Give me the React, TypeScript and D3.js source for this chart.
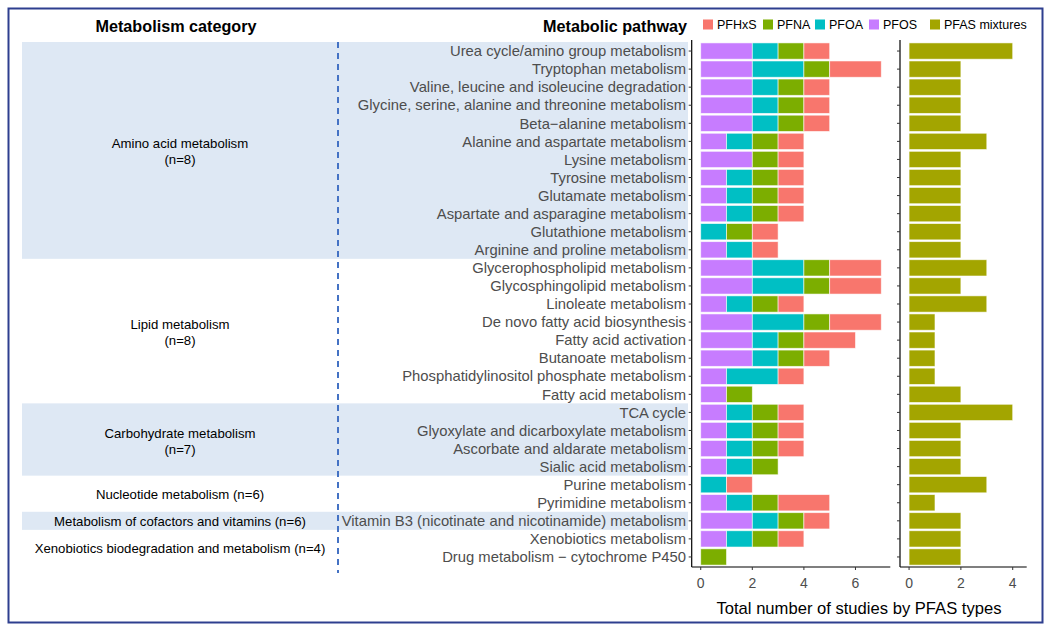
import React from "react";
import * as d3 from "d3";

const pathways = [
  "Urea cycle/amino group metabolism",
  "Tryptophan metabolism",
  "Valine, leucine and isoleucine degradation",
  "Glycine, serine, alanine and threonine metabolism",
  "Beta\u2212alanine metabolism",
  "Alanine and aspartate metabolism",
  "Lysine metabolism",
  "Tyrosine metabolism",
  "Glutamate metabolism",
  "Aspartate and asparagine metabolism",
  "Glutathione metabolism",
  "Arginine and proline metabolism",
  "Glycerophospholipid metabolism",
  "Glycosphingolipid metabolism",
  "Linoleate metabolism",
  "De novo fatty acid biosynthesis",
  "Fatty acid activation",
  "Butanoate metabolism",
  "Phosphatidylinositol phosphate metabolism",
  "Fatty acid metabolism",
  "TCA cycle",
  "Glyoxylate and dicarboxylate metabolism",
  "Ascorbate and aldarate metabolism",
  "Sialic acid metabolism",
  "Purine metabolism",
  "Pyrimidine metabolism",
  "Vitamin B3 (nicotinate and nicotinamide) metabolism",
  "Xenobiotics metabolism",
  "Drug metabolism \u2212 cytochrome P450",
];

const pfos = [2, 2, 2, 2, 2, 1, 2, 1, 1, 1, 0, 1, 2, 2, 1, 2, 2, 2, 1, 1, 1, 1, 1, 1, 0, 1, 2, 1, 0];
const pfoa = [1, 2, 1, 1, 1, 1, 0, 1, 1, 1, 1, 1, 2, 2, 1, 2, 1, 1, 2, 0, 1, 1, 1, 1, 1, 1, 1, 1, 0];
const pfna = [1, 1, 1, 1, 1, 1, 1, 1, 1, 1, 1, 0, 1, 1, 1, 1, 1, 1, 0, 1, 1, 1, 1, 1, 0, 1, 1, 1, 1];
const pfhxs = [1, 2, 1, 1, 1, 1, 1, 1, 1, 1, 1, 1, 2, 2, 1, 2, 2, 1, 1, 0, 1, 1, 1, 0, 1, 2, 1, 1, 0];
const mixtures = [4, 2, 2, 2, 2, 3, 2, 2, 2, 2, 2, 2, 3, 2, 3, 1, 1, 1, 1, 2, 4, 2, 2, 2, 3, 1, 2, 2, 2];

const categoryNames = [
  "Amino acid metabolism",
  "Lipid metabolism",
  "Carbohydrate metabolism",
  "Nucleotide metabolism",
  "Metabolism of cofactors and vitamins",
  "Xenobiotics biodegradation and metabolism",
];
const categoryN = [8, 8, 7, 6, 6, 4];
const categoryRows = [12, 8, 4, 2, 1, 2];
const categoryShaded = [true, false, true, false, true, false];
const categoryTwoLine = [true, true, true, false, false, false];

const seriesKeys = ["PFOS", "PFOA", "PFNA", "PFHxS"];
const seriesColors: Record<string, string> = {
  PFHxS: "#F8766D",
  PFNA: "#7CAE00",
  PFOA: "#00BFC4",
  PFOS: "#C77CFF",
};
const mixColor = "#A3A500";
const legendItems = ["PFHxS", "PFNA", "PFOA", "PFOS", "PFAS mixtures"];
const leftTicks = [0, 2, 4, 6];
const rightTicks = [0, 2, 4];

const FONT = "'Liberation Sans', Arial, sans-serif";

export default function App() {
  const W = 1050, H = 633;
  const y = d3.scalePoint<string>().domain(pathways).range([40.2, 567.8]).padding(0.6);
  const step = y.step();
  const barH = step * 0.9;
  const xL = d3.scaleLinear().domain([-0.35, 7.35]).range([691.7, 890.3]);
  const xR = d3.scaleLinear().domain([-0.35, 4.54]).range([900, 1026.7]);
  const axisY = 567;

  const rows = pathways.map((p, i) => ({
    pathway: p,
    PFOS: pfos[i],
    PFOA: pfoa[i],
    PFNA: pfna[i],
    PFHxS: pfhxs[i],
    mix: mixtures[i],
  }));
  const stacked = d3.stack<any>().keys(seriesKeys)(rows);

  let start = 0;
  const cats = categoryNames.map((name, ci) => {
    const first = start;
    const last = start + categoryRows[ci] - 1;
    start += categoryRows[ci];
    const top = (y(pathways[first]) as number) - step / 2;
    const bottom = (y(pathways[last]) as number) + step / 2;
    return { name, n: categoryN[ci], top, bottom, shaded: categoryShaded[ci], two: categoryTwoLine[ci] };
  });

  const legendX = [703, 763, 815, 869, 930];

  return (
    <svg width={W} height={H} style={{ position: "absolute", left: 0, top: 0, background: "#fff" }} fontFamily={FONT}>
      <rect x={0} y={0} width={W} height={H} fill="#fff" />
      {cats.map((c, i) =>
        c.shaded ? <rect key={"b" + i} x={22} y={c.top} width={666} height={c.bottom - c.top} fill="#dee8f4" /> : null
      )}
      <line x1={338} x2={338} y1={42} y2={573} stroke="#4472C4" strokeWidth={2} strokeDasharray="6,5" />
      <text x={176} y={32} textAnchor="middle" fontSize={16.2} fontWeight="bold" fill="#000">Metabolism category</text>
      <text x={687} y={32} textAnchor="end" fontSize={16.2} fontWeight="bold" fill="#000">Metabolic pathway</text>
      {cats.map((c, i) => {
        const cy = (c.top + c.bottom) / 2;
        return c.two ? (
          <g key={"c" + i}>
            <text x={180} y={cy - 2} textAnchor="middle" fontSize={13.2} fill="#000">{c.name}</text>
            <text x={180} y={cy + 14} textAnchor="middle" fontSize={13.2} fill="#000">{`(n=${c.n})`}</text>
          </g>
        ) : (
          <text key={"c" + i} x={180} y={cy + 5.5} textAnchor="middle" fontSize={13.2} fill="#000">{`${c.name} (n=${c.n})`}</text>
        );
      })}
      {pathways.map((p) => (
        <text key={p} x={686} y={(y(p) as number) + 5.2} textAnchor="end" fontSize={14.8} fill="#4d4d4d">{p}</text>
      ))}
      {stacked.map((s) => (
        <g key={s.key} fill={seriesColors[s.key]}>
          {s.map((d, i) =>
            d[1] - d[0] > 0 ? (
              <rect key={i} x={xL(d[0])} width={xL(d[1]) - xL(d[0])} y={(y(pathways[i]) as number) - barH / 2} height={barH}
                stroke="#ffffff" strokeOpacity={0.7} strokeWidth={0.8} />
            ) : null
          )}
        </g>
      ))}
      {rows.map((r, i) => (
        <rect key={"m" + i} x={xR(0)} width={xR(r.mix) - xR(0)} y={(y(r.pathway) as number) - barH / 2} height={barH}
          fill={mixColor} stroke="#ffffff" strokeOpacity={0.7} strokeWidth={0.8} />
      ))}
      <line x1={xL.range()[0]} x2={xL.range()[0]} y1={40} y2={axisY} stroke="#000" strokeWidth={1.2} />
      <line x1={xL.range()[0]} x2={xL.range()[1]} y1={axisY} y2={axisY} stroke="#000" strokeWidth={1.2} />
      {pathways.map((p) => (
        <line key={"tl" + p} x1={xL.range()[0] - 3} x2={xL.range()[0]} y1={y(p)} y2={y(p)} stroke="#333" strokeWidth={1} />
      ))}
      {leftTicks.map((t) => (
        <g key={"lt" + t}>
          <line x1={xL(t)} x2={xL(t)} y1={axisY} y2={axisY + 3} stroke="#333" strokeWidth={1} />
          <text x={xL(t)} y={axisY + 21} textAnchor="middle" fontSize={14} fill="#4d4d4d">{t}</text>
        </g>
      ))}
      <line x1={xR.range()[0]} x2={xR.range()[0]} y1={40} y2={axisY} stroke="#000" strokeWidth={1.2} />
      <line x1={xR.range()[0]} x2={xR.range()[1]} y1={axisY} y2={axisY} stroke="#000" strokeWidth={1.2} />
      {pathways.map((p) => (
        <line key={"tr" + p} x1={xR.range()[0] - 3} x2={xR.range()[0]} y1={y(p)} y2={y(p)} stroke="#333" strokeWidth={1} />
      ))}
      {rightTicks.map((t) => (
        <g key={"rt" + t}>
          <line x1={xR(t)} x2={xR(t)} y1={axisY} y2={axisY + 3} stroke="#333" strokeWidth={1} />
          <text x={xR(t)} y={axisY + 21} textAnchor="middle" fontSize={14} fill="#4d4d4d">{t}</text>
        </g>
      ))}
      <text x={859} y={614} textAnchor="middle" fontSize={16.6} fill="#000">Total number of studies by PFAS types</text>
      {legendItems.map((k, i) => (
        <g key={"lg" + k}>
          <rect x={legendX[i]} y={19.5} width={10} height={10} fill={k === "PFAS mixtures" ? mixColor : seriesColors[k]} />
          <text x={legendX[i] + 14} y={29} fontSize={12.5} fill="#000">{k}</text>
        </g>
      ))}
      <rect x={8.5} y={8.5} width={1034} height={614} fill="none" stroke="#2E3F8F" strokeWidth={2} />
    </svg>
  );
}
